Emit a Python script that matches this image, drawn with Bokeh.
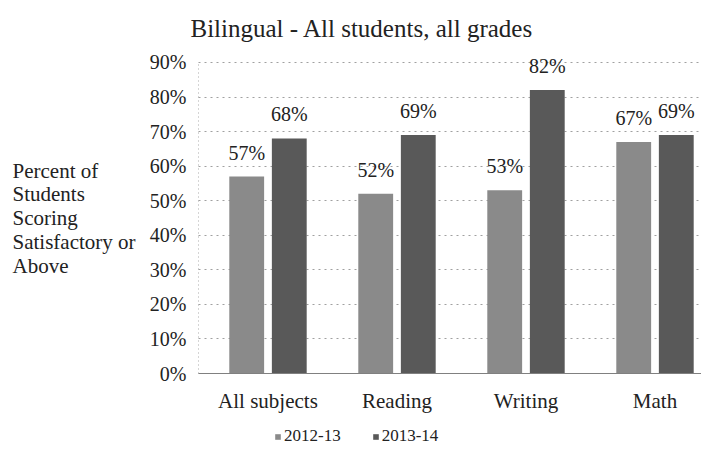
from bokeh.plotting import figure
from bokeh.models import (ColumnDataSource, Range1d, FixedTicker, PrintfTickFormatter,
                          LabelSet, Label, Legend, LegendItem)
from bokeh.core.properties import value
from bokeh.transform import dodge
from bokeh.embed import file_html
from bokeh.resources import INLINE

# ---------------- data ----------------
title_text = "Bilingual - All students, all grades"
categories = ["All subjects", "Reading", "Writing", "Math"]
series_names = ["2012-13", "2013-14"]
values_2012_13 = [57, 52, 53, 67]
values_2013_14 = [68, 69, 82, 69]
y_ticks = [0, 10, 20, 30, 40, 50, 60, 70, 80, 90]
y_title_lines = ["Percent of", "Students", "Scoring", "Satisfactory or", "Above"]

# ---------------- style / layout ----------------
FONT = "Liberation Serif"
TXT = "#222222"
C1 = "#8a8a8a"
C2 = "#595959"
W, H = 701, 446
X0, X1 = -1.5736, 3.8605       # whole canvas in data units
Y0, Y1 = -21.12, 107.93
PLOT_LEFT = -0.0388            # left edge of the plotting area

centers = [i + 0.5 for i in range(len(categories))]
src = ColumnDataSource(dict(
    x=centers,
    v1=values_2012_13,
    v2=values_2013_14,
    l1=[f"{v}%" for v in values_2012_13],
    l2=[f"{v}%" for v in values_2013_14],
))

p = figure(width=W, height=H, output_backend="svg", toolbar_location=None,
           x_range=Range1d(X0, X1), y_range=Range1d(Y0, Y1),
           min_border_left=0, min_border_right=0, min_border_top=0,
           min_border_bottom=0)
p.outline_line_color = None
p.background_fill_color = "white"
p.border_fill_color = "white"

OFF = 0.165
BW = 0.27
r1 = p.vbar(x=dodge("x", -OFF, range=p.x_range), top="v1", width=BW, source=src,
            fill_color=C1, line_color=None)
r2 = p.vbar(x=dodge("x", OFF, range=p.x_range), top="v2", width=BW, source=src,
            fill_color=C2, line_color=None)

for col, lab, off in (("v1", "l1", -OFF), ("v2", "l2", OFF)):
    ls = LabelSet(x=dodge("x", off, range=p.x_range), y=col, text=lab, source=src,
                  text_align="center", text_baseline="alphabetic", y_offset=17,
                  text_font=value(FONT), text_font_size=value("20px"), text_color=TXT)
    p.add_layout(ls)

# x axis (drawn at 0%)
p.xaxis.fixed_location = 0
p.xaxis.bounds = (PLOT_LEFT, X1)
p.xaxis.ticker = FixedTicker(ticks=centers)
p.xaxis.major_label_overrides = {c: n for c, n in zip(centers, categories)}
p.xaxis.major_label_text_font = FONT
p.xaxis.major_label_text_font_size = "21px"
p.xaxis.major_label_text_color = TXT
p.xaxis.major_tick_line_color = None
p.xaxis.minor_tick_line_color = None
p.xaxis.major_label_standoff = 9
p.xaxis.axis_line_color = "#808080"

# y axis
p.yaxis.fixed_location = PLOT_LEFT
p.yaxis.bounds = (0, 90)
p.yaxis.ticker = FixedTicker(ticks=y_ticks)
p.yaxis.formatter = PrintfTickFormatter(format="%d%%")
p.yaxis.major_label_text_font = FONT
p.yaxis.major_label_text_font_size = "20px"
p.yaxis.major_label_text_color = TXT
p.yaxis.major_tick_line_color = None
p.yaxis.minor_tick_line_color = None
p.yaxis.major_label_standoff = 6
p.yaxis.axis_line_color = "#aaaaaa"
p.yaxis.axis_line_dash = "1 3"

p.xgrid.grid_line_color = None
p.ygrid.grid_line_color = "#a0a0a0"
p.ygrid.grid_line_dash = "2 4"
p.ygrid.bounds = (0, 90)
p.ygrid.cross_bounds = (PLOT_LEFT, X1)

# title
p.add_layout(Label(x=190, y=H - 28, x_units="screen", y_units="screen", text=title_text,
                   text_align="left", text_baseline="alphabetic",
                   text_font=FONT, text_font_size="25px", text_color=TXT))

# y axis title (left aligned lines)
for i, line in enumerate(y_title_lines):
    p.add_layout(Label(x=12, y=H - (170 + 23.75 * i), x_units="screen", y_units="screen",
                       text=line, text_align="left", text_baseline="alphabetic",
                       text_font=FONT, text_font_size="21px", text_color=TXT))

legend = Legend(items=[LegendItem(label=series_names[0], renderers=[r1]),
                       LegendItem(label=series_names[1], renderers=[r2])],
                orientation="horizontal", location=(274, 0),
                padding=0, margin=0, spacing=31, glyph_width=7, glyph_height=7,
                label_standoff=3, label_height=18,
                label_text_font=FONT, label_text_font_size="17px",
                label_text_color=TXT, border_line_color=None,
                background_fill_alpha=0)
p.add_layout(legend)

open("out.html", "w").write(file_html(p, INLINE))
